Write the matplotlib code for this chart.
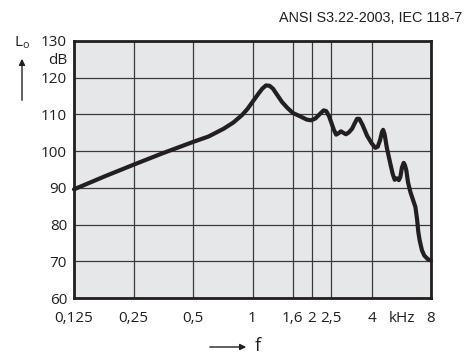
import matplotlib.pyplot as plt
from matplotlib.ticker import FixedLocator, NullLocator

# Frequency response (kHz, dB)
freq = [0.125, 0.18, 0.25, 0.35, 0.5, 0.6, 0.714, 0.8, 0.884, 0.94, 1.0, 1.07,
        1.12, 1.17, 1.22, 1.27, 1.33, 1.41, 1.5, 1.6, 1.74, 1.88, 1.98, 2.08,
        2.2, 2.29, 2.36, 2.44, 2.5, 2.58, 2.65, 2.73, 2.8, 2.88, 2.97, 3.07,
        3.19, 3.29, 3.38, 3.47, 3.6, 3.8, 4.0, 4.18, 4.3, 4.42, 4.52, 4.58,
        4.66, 4.78, 4.98, 5.12, 5.24, 5.38, 5.5, 5.6, 5.7, 5.82, 5.9, 6.0,
        6.12, 6.29, 6.5, 6.67, 6.8, 6.9, 7.01, 7.2, 7.39, 7.7, 8.0]
level = [89.6, 93.2, 96.3, 99.4, 102.5, 104.0, 106.1, 107.8, 109.8, 111.4,
         113.4, 115.6, 117.0, 117.9, 117.8, 117.0, 115.4, 113.4, 111.8, 110.4,
         109.5, 108.6, 108.4, 108.9, 110.2, 111.1, 110.9, 109.5, 107.9, 105.8,
         104.5, 104.9, 105.4, 105.0, 104.6, 105.1, 106.1, 107.6, 108.8, 108.8,
         107.2, 104.2, 102.2, 100.9, 101.2, 103.0, 105.2, 105.8, 104.6, 101.0,
         96.6, 93.8, 92.2, 92.6, 92.1, 93.0, 95.5, 96.8, 96.2, 94.8, 91.5,
         88.9, 86.6, 84.8, 81.5, 78.0, 75.7, 73.0, 71.6, 70.6, 70.2]

x_ticks = [0.125, 0.25, 0.5, 1, 1.6, 2, 2.5, 4, 8]
x_labels = ["0,125", "0,25", "0,5", "1", "1,6", "2", "2,5", "4", "8"]
y_ticks = [60, 70, 80, 90, 100, 110, 120, 130]

plt.rcParams['font.family'] = ['Open Sans', 'DejaVu Sans']

fig = plt.figure(figsize=(4.69, 3.58), dpi=100)
ax = fig.add_axes([74 / 469, 1 - 298 / 358, 357 / 469, 257 / 358])
ax.set_facecolor('#e6e7e8')

ax.set_xscale('log')
ax.set_xlim(0.125, 8)
ax.set_ylim(60, 130)
ax.xaxis.set_major_locator(FixedLocator(x_ticks))
ax.xaxis.set_minor_locator(NullLocator())
ax.set_xticklabels(x_labels)
ax.set_yticks(y_ticks)
ax.tick_params(length=0, labelsize=11, colors='#231f20', pad=5)
ax.tick_params(axis='x', pad=9)
ax.grid(True, color='#3a3a3a', linewidth=0.9)
for s in ax.spines.values():
    s.set_linewidth(2)
    s.set_color('#231f20')

ax.plot(freq, level, color='#231f20', linewidth=3, solid_joinstyle='round',
        solid_capstyle='round', clip_on=False, zorder=3)

# axis annotations
fig.text(462 / 469, 1 - 18 / 358, "ANSI S3.22-2003, IEC 118-7", ha='right',
         va='center', fontsize=10.4, family='Liberation Sans', color='#231f20')
fig.text(67 / 469, 1 - 60 / 358, "dB", ha='right', va='center', fontsize=11,
         color='#231f20')
fig.text(402 / 469, 1 - 319 / 358, "kHz", ha='center', va='center',
         fontsize=11, color='#231f20')
fig.text(22 / 469, 1 - 43 / 358, "L$_\\mathregular{o}$", ha='center',
         va='center', fontsize=11, color='#231f20')
fig.add_artist(plt.Annotation("", xy=(22 / 469, 1 - 56 / 358),
                              xytext=(22 / 469, 1 - 103 / 358),
                              xycoords='figure fraction',
                              arrowprops=dict(arrowstyle='-|>', color='#231f20',
                                              lw=1, mutation_scale=9)))
fig.add_artist(plt.Annotation("", xy=(249 / 469, 1 - 347 / 358),
                              xytext=(207 / 469, 1 - 347 / 358),
                              xycoords='figure fraction',
                              arrowprops=dict(arrowstyle='-|>', color='#231f20',
                                              lw=1, mutation_scale=9)))
fig.text(258 / 469, 1 - 346 / 358, "f", ha='center', va='center', fontsize=13,
         color='#231f20')

fig.savefig('out.png', dpi=100)
